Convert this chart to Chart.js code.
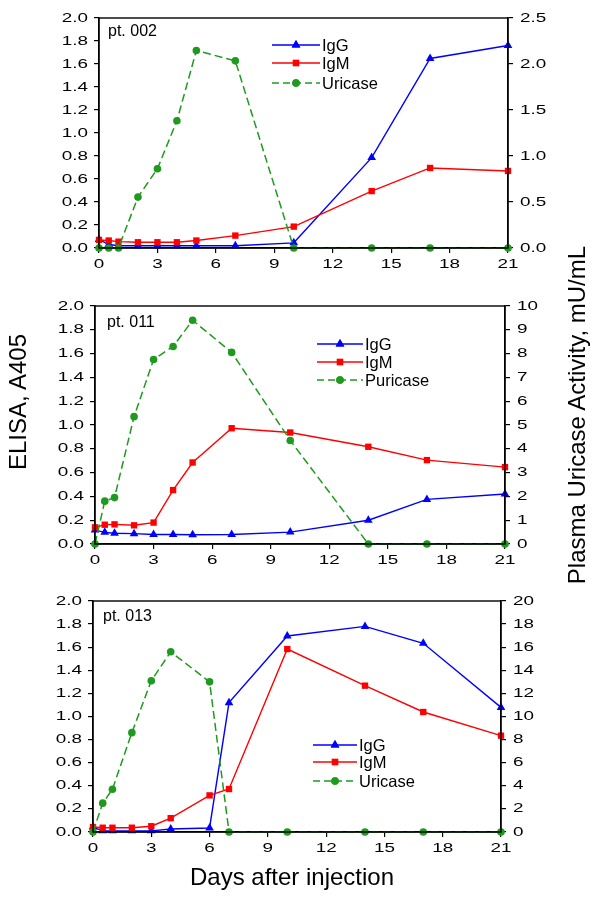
<!DOCTYPE html>
<html>
<head>
<meta charset="utf-8">
<script src="https://cdn.jsdelivr.net/npm/chart.js@4/dist/chart.umd.min.js"></script>
<style>
  html, body { margin: 0; padding: 0; background: #fff; }
  #wrap { position: relative; width: 600px; height: 901px; overflow: hidden; font-family: "Liberation Sans", Arial, sans-serif; }
  canvas { position: absolute; left: 0; }
  .lbl { position: absolute; font-size: 24px; color: #000; white-space: nowrap; line-height: 1; }
</style>
</head>
<body>
<div id="wrap">
  <canvas id="c1" width="600" height="280" style="top:0px"></canvas>
  <canvas id="c2" width="600" height="290" style="top:285px"></canvas>
  <canvas id="c3" width="600" height="285" style="top:580px"></canvas>
  <div class="lbl" id="ylab">ELISA, A405</div>
  <div class="lbl" id="y2lab">Plasma Uricase Activity, mU/mL</div>
  <div class="lbl" id="xlab">Days after injection</div>
</div>
<script>
// ---------- data ----------
const days002 = [0, 0.5, 1, 2, 3, 4, 5, 7, 10, 14, 17, 21];
const igg002  = [0.075, 0.03, 0.02, 0.02, 0.02, 0.02, 0.02, 0.02, 0.045, 0.786, 1.648, 1.761];
const igm002  = [0.07, 0.065, 0.055, 0.05, 0.05, 0.05, 0.065, 0.108, 0.186, 0.495, 0.696, 0.67];
const uric002 = [0, 0, 0, 0.553, 0.862, 1.383, 2.147, 2.034, 0, 0, 0, 0];

const days011 = [0, 0.5, 1, 2, 3, 4, 5, 7, 10, 14, 17, 21];
const igg011  = [0.117, 0.098, 0.09, 0.087, 0.08, 0.08, 0.078, 0.08, 0.10, 0.20, 0.375, 0.42];
const igm011  = [0.14, 0.162, 0.165, 0.157, 0.18, 0.453, 0.685, 0.973, 0.937, 0.817, 0.705, 0.646];
const uric011 = [0, 1.8, 1.95, 5.35, 7.75, 8.3, 9.4, 8.05, 4.35, 0, 0, 0];

const days013 = [0, 0.5, 1, 2, 3, 4, 6, 7, 10, 14, 17, 21];
const igg013  = [0.043, 0.01, 0.01, 0.01, 0.01, 0.026, 0.035, 1.12, 1.697, 1.78, 1.634, 1.079];
const igm013  = [0.043, 0.037, 0.037, 0.037, 0.05, 0.12, 0.317, 0.372, 1.584, 1.267, 1.039, 0.834];
const uric013 = [0, 2.5, 3.7, 8.6, 13.1, 15.6, 13.0, 0, 0, 0, 0, 0];

const panelNames = ['pt. 002', 'pt. 011', 'pt. 013'];
const legend1 = ['IgG', 'IgM', 'Uricase'];
const legend2 = ['IgG', 'IgM', 'Puricase'];
const legend3 = ['IgG', 'IgM', 'Uricase'];
const xTicks = [0, 3, 6, 9, 12, 15, 18, 21];
const leftMax = 2.0, leftStep = 0.2;
const rightMax = [2.5, 10, 20];
const rightStep = [0.5, 1, 2];

// ---------- styling ----------
const FONT = '"Liberation Sans", Arial, Helvetica, sans-serif';
const BLUE = '#0000ff', RED = '#ff0000', GREEN = '#1f9a1f';
const TICK_FONT = '13px ' + FONT;
const STRETCH = 1.45;

// text labels
(function () {
  const y = document.getElementById('ylab');
  y.style.left = (18 - 70) + 'px'; y.style.top = (402 - 12) + 'px';
  y.style.width = '140px'; y.style.textAlign = 'center';
  y.style.transform = 'rotate(-90deg)';
  const y2 = document.getElementById('y2lab');
  y2.style.left = (577 - 200) + 'px'; y2.style.top = (415 - 12) + 'px';
  y2.style.width = '400px'; y2.style.textAlign = 'center';
  y2.style.transform = 'rotate(-90deg)';
  const x = document.getElementById('xlab');
  x.style.left = (292 - 150) + 'px'; x.style.top = (878 - 13) + 'px';
  x.style.width = '300px'; x.style.textAlign = 'center';
})();

function toPts(xs, ys) { return xs.map((d, i) => ({ x: d, y: ys[i] })); }

function stretchText(c, txt, x, y, align) {
  c.save();
  c.translate(x, y);
  c.scale(STRETCH, 1);
  c.textAlign = align;
  c.textBaseline = 'middle';
  c.fillText(txt, 0, 0);
  c.restore();
}

function makePanel(id, p) {
  const ctx = document.getElementById(id);
  const frameAndLegend = {
    id: 'frameLegend',
    afterDatasetsDraw(chart) {
      const c = chart.ctx, a = chart.chartArea;
      c.save();
      c.strokeStyle = '#000'; c.lineWidth = 1.4;
      c.strokeRect(a.left, a.top, a.right - a.left, a.bottom - a.top);
      // tick labels (stretched like the reference)
      c.fillStyle = '#000';
      c.font = TICK_FONT;
      const sx = chart.scales.x, sy = chart.scales.y, sy1 = chart.scales.y1;
      sx.ticks.forEach(t => stretchText(c, String(t.value), sx.getPixelForValue(t.value), a.bottom + 16, 'center'));
      sy.ticks.forEach(t => stretchText(c, t.value.toFixed(1), a.left - 11, sy.getPixelForValue(t.value), 'right'));
      sy1.ticks.forEach(t => stretchText(c, p.rStep < 1 ? t.value.toFixed(1) : String(t.value), a.right + 12, sy1.getPixelForValue(t.value), 'left'));
      // panel name
      c.font = '16px ' + FONT;
      c.textBaseline = 'middle'; c.textAlign = 'left';
      c.fillText(p.name, a.left + p.nameDx, a.top + p.nameDy);
      // legend
      const styles = [
        { color: BLUE, marker: 'triangle', dash: [] },
        { color: RED, marker: 'rect', dash: [] },
        { color: GREEN, marker: 'circle', dash: [7, 4] }
      ];
      styles.forEach((s, i) => {
        const yy = p.legRows[i];
        c.strokeStyle = s.color; c.lineWidth = 1.4; c.setLineDash(s.dash);
        c.beginPath(); c.moveTo(p.legX0, yy); c.lineTo(p.legX1, yy); c.stroke();
        c.setLineDash([]);
        c.fillStyle = s.color;
        const mx = (p.legX0 + p.legX1) / 2;
        Chart.helpers.drawPoint(c, { pointStyle: s.marker, radius: s.marker === 'triangle' ? 5 : (s.marker === 'rect' ? 4.5 : 3.8), rotation: 0, borderWidth: 0 }, mx, yy);
        c.fill();
        c.fillStyle = '#000';
        c.font = '16.5px ' + FONT;
        c.textAlign = 'left'; c.textBaseline = 'middle';
        c.fillText(p.legend[i], p.legX1 + 2, yy + 1);
      });
      c.restore();
    }
  };
  const gridOpts = { display: true, drawOnChartArea: false, drawTicks: true, tickLength: 5, color: '#000', lineWidth: 1.2 };
  return new Chart(ctx, {
    type: 'line',
    data: {
      datasets: [
        { label: p.legend[2], data: toPts(p.days, p.uric), yAxisID: 'y1',
          borderColor: GREEN, backgroundColor: GREEN, borderWidth: 1.5, borderDash: [8, 4],
          pointStyle: 'circle', pointRadius: 3.8, pointBorderWidth: 0, tension: 0, clip: false },
        { label: p.legend[1], data: toPts(p.days, p.igm), yAxisID: 'y',
          borderColor: RED, backgroundColor: RED, borderWidth: 1.4,
          pointStyle: 'rect', pointRadius: 4.5, pointBorderWidth: 0, tension: 0, clip: false },
        { label: p.legend[0], data: toPts(p.days, p.igg), yAxisID: 'y',
          borderColor: BLUE, backgroundColor: BLUE, borderWidth: 1.4,
          pointStyle: 'triangle', pointRadius: 5, pointBorderWidth: 0, tension: 0, clip: false }
      ]
    },
    options: {
      responsive: false,
      animation: false,
      events: [],
      layout: { padding: { top: p.padTop, left: 0, right: 0, bottom: 0 } },
      plugins: { legend: { display: false }, tooltip: { enabled: false } },
      scales: {
        x: {
          type: 'linear', min: 0, max: 21,
          afterBuildTicks: s => { s.ticks = xTicks.map(v => ({ value: v })); },
          afterFit: s => { s.height = p.xH; },
          grid: gridOpts,
          border: { display: true, color: '#000', width: 1.4 },
          ticks: { display: false }
        },
        y: {
          position: 'left', min: 0, max: leftMax,
          afterBuildTicks: s => { const t = []; for (let i = 0; i <= 10; i++) t.push({ value: +(i * leftStep).toFixed(1) }); s.ticks = t; },
          afterFit: s => { s.width = p.yW; },
          grid: gridOpts,
          border: { display: true, color: '#000', width: 1.4 },
          ticks: { display: false }
        },
        y1: {
          position: 'right', min: 0, max: p.rMax,
          afterBuildTicks: s => { const t = []; const n = Math.round(p.rMax / p.rStep); for (let i = 0; i <= n; i++) t.push({ value: +(i * p.rStep).toFixed(2) }); s.ticks = t; },
          afterFit: s => { s.width = p.y1W; },
          grid: gridOpts,
          border: { display: true, color: '#000', width: 1.4 },
          ticks: { display: false }
        }
      }
    },
    plugins: [frameAndLegend]
  });
}

makePanel('c1', {
  name: panelNames[0], days: days002, igg: igg002, igm: igm002, uric: uric002, legend: legend1,
  rMax: rightMax[0], rStep: rightStep[0],
  padTop: 18, xH: 32, yW: 99, y1W: 92,
  nameDx: 9, nameDy: 14, legX0: 272, legX1: 320, legRows: [45, 63, 83]
});
makePanel('c2', {
  name: panelNames[1], days: days011, igg: igg011, igm: igm011, uric: uric011, legend: legend2,
  rMax: rightMax[1], rStep: rightStep[1],
  padTop: 21, xH: 31, yW: 95, y1W: 95,
  nameDx: 12, nameDy: 17, legX0: 317, legX1: 363, legRows: [59, 77, 95]
});
makePanel('c3', {
  name: panelNames[2], days: days013, igg: igg013, igm: igm013, uric: uric013, legend: legend3,
  rMax: rightMax[2], rStep: rightStep[2],
  padTop: 21, xH: 33, yW: 93, y1W: 99,
  nameDx: 10, nameDy: 16, legX0: 313, legX1: 357, legRows: [165, 182, 201]
});
</script>
</body>
</html>
